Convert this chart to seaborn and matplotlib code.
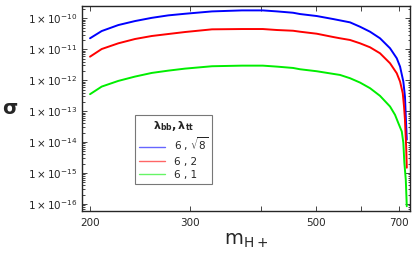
import numpy as np
import pandas as pd
import matplotlib
matplotlib.use("Agg")
import matplotlib.pyplot as plt
from matplotlib.lines import Line2D
from matplotlib.ticker import FixedLocator, FixedFormatter, LogLocator, NullFormatter
import seaborn as sns

# data
mass_blue = [200, 209.7, 224.3, 240, 256.9, 274.7, 294, 328, 370.4, 403, 426.9, 455.6, 468.7, 501.5,
             536.4, 574, 597.8, 622.5, 648.2, 675.1, 693.7, 703.1, 712.5, 717.2, 720, 722.5]
sigma_blue = [2.27e-11, 3.89e-11, 6.08e-11, 8.18e-11, 1.04e-10, 1.25e-10, 1.41e-10, 1.68e-10, 1.81e-10,
              1.81e-10, 1.68e-10, 1.52e-10, 1.38e-10, 1.19e-10, 9.49e-11, 7.43e-11, 5.36e-11, 3.70e-11,
              2.27e-11, 1.08e-11, 5.13e-12, 2.75e-12, 9.02e-13, 2.96e-13, 5.25e-14, 1.19e-14]
mass_red = [200, 209.7, 224.3, 240, 256.9, 274.7, 294, 328, 370.4, 403, 426.9, 455.6, 468.7, 501.5,
            536.4, 551.2, 574, 597.8, 622.5, 648.2, 675.1, 693.7, 703.1, 710.8, 714.5, 717.2, 718.4,
            720.7, 722.5]
sigma_red = [5.77e-12, 1.02e-11, 1.56e-11, 2.15e-11, 2.69e-11, 3.12e-11, 3.62e-11, 4.42e-11, 4.52e-11,
             4.52e-11, 4.20e-11, 3.98e-11, 3.70e-11, 3.19e-11, 2.49e-11, 2.27e-11, 2.0e-11, 1.56e-11,
             1.16e-11, 7.43e-12, 3.53e-12, 1.68e-12, 9.02e-13, 3.81e-13, 1.41e-13, 5.24e-14, 2.49e-14,
             7.21e-15, 1.48e-15]
mass_green = [200, 209.7, 224.3, 240, 256.9, 274.7, 294, 328, 370.4, 403, 426.9, 455.6, 468.7, 501.5,
              536.4, 551.2, 574, 597.8, 622.5, 648.2, 675.1, 688.9, 698.2, 708, 712.5, 715.5, 719.6,
              722.5]
sigma_green = [3.53e-13, 6.22e-13, 9.49e-13, 1.31e-12, 1.72e-12, 2.04e-12, 2.37e-12, 2.83e-12, 2.96e-12,
               2.96e-12, 2.75e-12, 2.49e-12, 2.26e-12, 1.95e-12, 1.60e-12, 1.48e-12, 1.16e-12, 8.38e-13,
               5.52e-13, 3.12e-13, 1.41e-13, 7.58e-14, 4.10e-14, 2.2e-14, 9.5e-15, 2.10e-15, 6.08e-16,
               8.38e-17]

series_labels = ["6 , $\\sqrt{8}$", "6 , 2", "6 , 1"]
colors = ["#0000ff", "#ff0000", "#00ee00"]
x_ticks = [200, 300, 400, 500, 600, 700]
x_tick_labels = ["200", "300", "", "500", "", "700"]
y_exps = [-10, -11, -12, -13, -14, -15, -16]

df = pd.concat([
    pd.DataFrame({"m": mass_blue, "sigma": sigma_blue, "s": series_labels[0]}),
    pd.DataFrame({"m": mass_red, "sigma": sigma_red, "s": series_labels[1]}),
    pd.DataFrame({"m": mass_green, "sigma": sigma_green, "s": series_labels[2]}),
], ignore_index=True)

sns.set_style("ticks")
plt.rcParams["font.family"] = ["DejaVu Sans"]
plt.rcParams["mathtext.fontset"] = "dejavusans"

fig = plt.figure(figsize=(4.15, 2.56), dpi=100)
ax = fig.add_axes([82 / 415, 1 - 211 / 256, 328 / 415, 205 / 256])

sns.lineplot(data=df, x="m", y="sigma", hue="s", palette=colors, estimator=None,
             sort=False, linewidth=1.4, legend=False, ax=ax)

ax.set_xscale("log")
ax.set_yscale("log")
ax.set_xlim(193.6, 732)
ax.set_ylim(10 ** -16.23, 10 ** -9.6)

ax.xaxis.set_major_locator(FixedLocator(x_ticks))
ax.xaxis.set_major_formatter(FixedFormatter(x_tick_labels))
ax.xaxis.set_minor_locator(FixedLocator([]))
ax.yaxis.set_major_locator(FixedLocator([10.0 ** e for e in y_exps]))
ax.yaxis.set_major_formatter(FixedFormatter([r"$1\times10^{%d}$" % e for e in y_exps]))
ax.yaxis.set_minor_locator(LogLocator(base=10, subs=np.arange(2, 10)))
ax.yaxis.set_minor_formatter(NullFormatter())

ax.tick_params(which="both", direction="in", top=True, right=True, labelsize=7.5, width=0.6)
ax.tick_params(which="major", length=3.5)
ax.tick_params(which="minor", length=1.8)
ax.tick_params(axis="x", pad=5)
for sp in ax.spines.values():
    sp.set_linewidth(1.0)

ax.set_xlabel(r"$\mathrm{m}_{\mathrm{H+}}$", fontsize=14, labelpad=2)
ax.set_ylabel("σ", rotation=0, fontsize=14, fontweight="bold", va="center", ha="center")
ax.yaxis.set_label_coords(-0.22, 0.5)

handles = [Line2D([0], [0], color=c, lw=1.0, alpha=0.6) for c in colors]
leg = ax.legend(handles, series_labels, title=r"$\mathbf{\lambda_{bb},\lambda_{tt}}$",
                loc="lower left", bbox_to_anchor=(0.146, 0.107), fontsize=7.5,
                title_fontsize=8, frameon=True, fancybox=False, edgecolor="#555555",
                handlelength=2.5, borderpad=0.4, labelspacing=0.3, handletextpad=0.8)
leg.get_frame().set_linewidth(0.8)

fig.savefig("out.png", dpi=100)
